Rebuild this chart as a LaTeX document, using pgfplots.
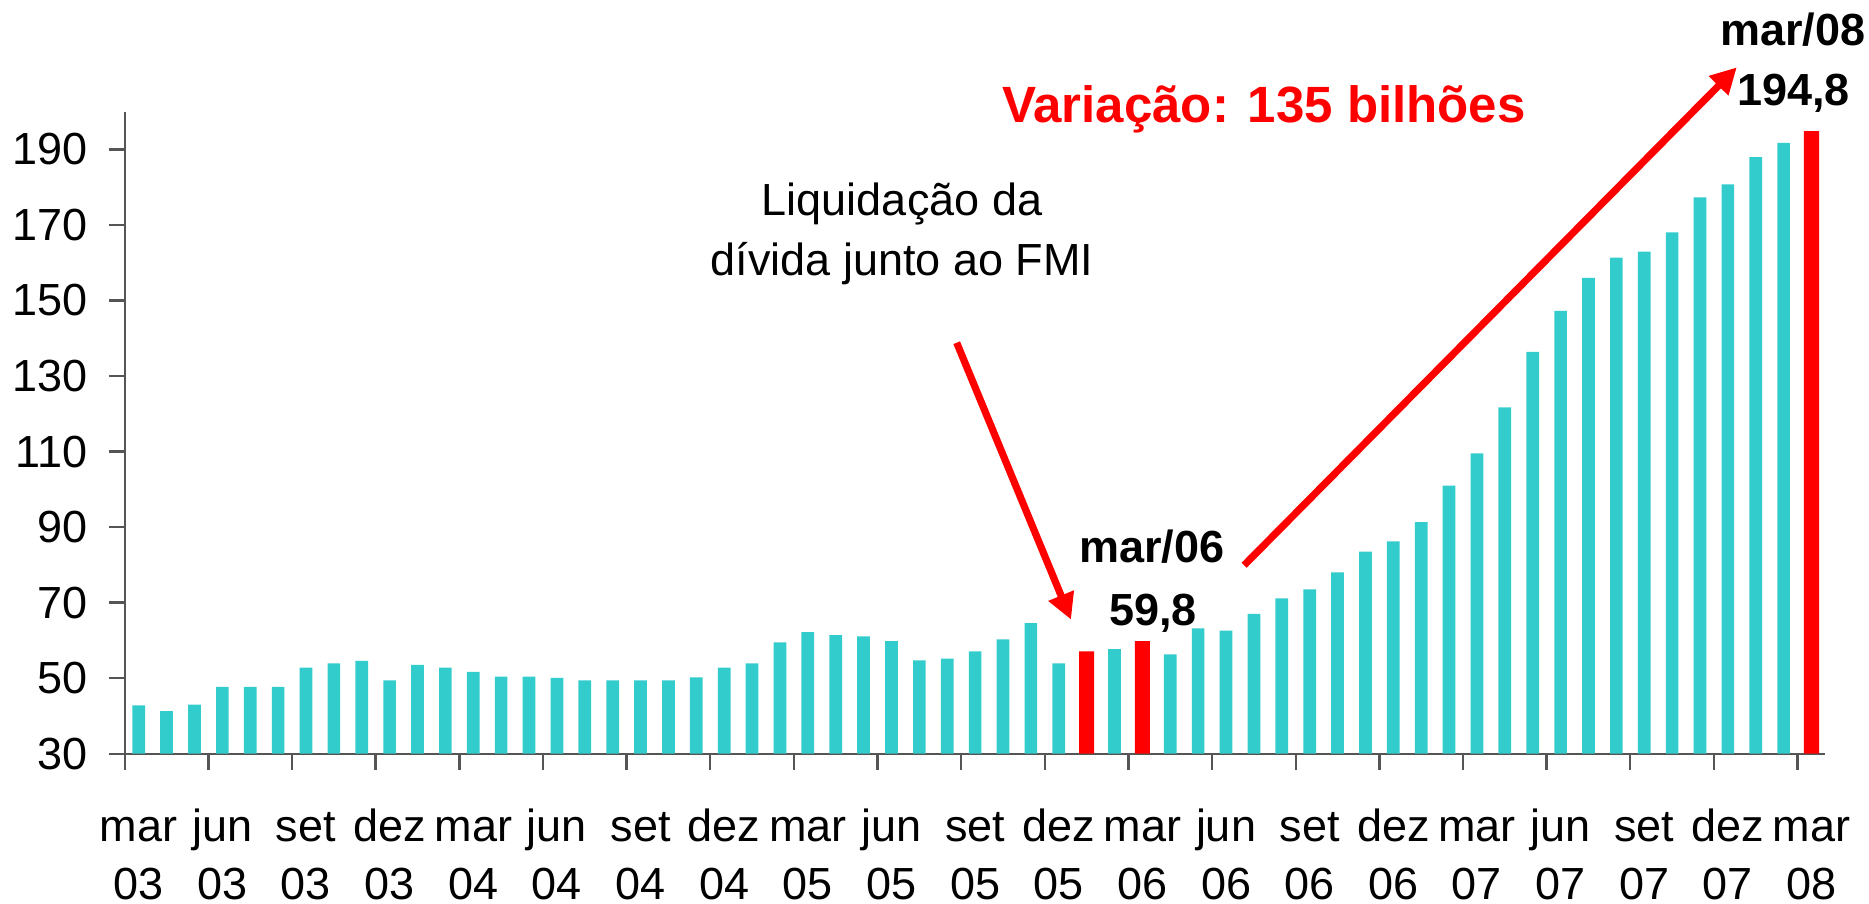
\documentclass[border=0pt]{standalone}
\usepackage{pgfplots}
\pgfplotsset{compat=1.18}
\usepackage{pgfplotstable}
\usepackage{fontspec}
\setmainfont{Liberation Sans}
\usetikzlibrary{arrows.meta}

\definecolor{barcyan}{HTML}{33CCCC}
\definecolor{barred}{HTML}{FF0000}
\definecolor{axgray}{HTML}{555555}
\newcommand\ml[2]{\strut#1\\#2}

% reservas, mar/03 .. mar/08 (1 = mar/03)
\pgfplotstableread{
x y
1 42.8
2 41.3
3 43.0
4 47.7
5 47.7
6 47.7
7 52.8
8 53.9
9 54.6
10 49.4
11 53.5
12 52.8
13 51.7
14 50.4
15 50.4
16 50.1
17 49.4
18 49.4
19 49.4
20 49.4
21 50.2
22 52.8
23 53.9
24 59.5
25 62.2
26 61.4
27 61.1
28 59.8
29 54.7
30 55.2
31 57.1
32 60.3
33 64.6
34 53.9
36 57.7
38 56.3
39 63.2
40 62.6
41 67.0
42 71.1
43 73.5
44 78.0
45 83.5
46 86.2
47 91.3
48 101.0
49 109.5
50 121.7
51 136.4
52 147.2
53 156.0
54 161.3
55 162.9
56 168.0
57 177.3
58 180.7
59 187.9
60 191.7
}\cyandata
\pgfplotstableread{
x y
35 57.1
37 59.8
61 194.8
}\reddata

\begin{document}
\begin{tikzpicture}
\useasboundingbox (-31.19pt,-37.33pt) rectangle (436.06pt,188.43pt);
\begin{axis}[
  at={(0,0)}, anchor=south west,
  width=425.17pt, height=160.55pt, scale only axis,
  xmin=0.5, xmax=61.5, ymin=30, ymax=200,
  axis x line=bottom, axis y line=left,
  axis line style={-, axgray, line width=0.6pt},
  ytick={30,50,...,190},
  xtick={0.5,3.5,...,60.5},
  xticklabels={\ml{mar}{03},\ml{jun}{03},\ml{set}{03},\ml{dez}{03},
    \ml{mar}{04},\ml{jun}{04},\ml{set}{04},\ml{dez}{04},
    \ml{mar}{05},\ml{jun}{05},\ml{set}{05},\ml{dez}{05},
    \ml{mar}{06},\ml{jun}{06},\ml{set}{06},\ml{dez}{06},
    \ml{mar}{07},\ml{jun}{07},\ml{set}{07},\ml{dez}{07},
    \ml{mar}{08}},
  tick align=outside, major tick length=4pt,
  tick style={axgray, line width=0.6pt},
  /pgf/number format/assume math mode=true,
  ticklabel style={font=\fontsize{11.25}{14.5}\selectfont, inner sep=0pt},
  xticklabel style={align=center, anchor=north, xshift=3.485pt, yshift=-7.6pt},
  yticklabel style={anchor=east, xshift=-5.2pt},
]
\addplot[ybar, bar width=0.455, bar shift=0pt, fill=barcyan, draw=none] table {\cyandata};
\addplot[ybar, bar width=0.54, bar shift=0pt, fill=barred, draw=none] table {\reddata};

\coordinate (liqA) at (axis cs:28.38,172.6);
\coordinate (liqB) at (axis cs:28.38,156.7);
\coordinate (a1s) at (axis cs:30.34,138.8);
\coordinate (a1e) at (axis cs:34.44,65.5);
\coordinate (m06) at (axis cs:37.33,80.5);
\coordinate (v06) at (axis cs:37.38,64.0);
\coordinate (a2s) at (axis cs:40.65,79.9);
\coordinate (a2e) at (axis cs:58.32,211.7);
\coordinate (m08) at (axis cs:60.32,217.6);
\coordinate (v08) at (axis cs:60.36,201.7);
\coordinate (var) at (axis cs:41.36,197.0);
\end{axis}

\begin{scope}[every node/.style={inner sep=0pt, anchor=base}]
\node[font=\fontsize{11.25}{13}\selectfont] at (liqA) {Liquidação da};
\node[font=\fontsize{11.25}{13}\selectfont] at (liqB) {dívida junto ao FMI};
\node[font=\fontsize{11.25}{13}\selectfont\bfseries] at (m06) {mar/06};
\node[font=\fontsize{11.25}{13}\selectfont\bfseries] at (v06) {59,8};
\node[font=\fontsize{11.25}{13}\selectfont\bfseries] at (m08) {mar/08};
\node[font=\fontsize{11.25}{13}\selectfont\bfseries] at (v08) {194,8};
\node[font=\fontsize{12.75}{15}\selectfont\bfseries, text=barred] at (var) {Variação: 135 bilhões};
\end{scope}
\draw[barred, line width=1.8pt, -{Triangle[length=6.5pt,width=6.5pt]}] (a1s) -- (a1e);
\draw[barred, line width=1.8pt, -{Triangle[length=6.5pt,width=6.5pt]}] (a2s) -- (a2e);
\end{tikzpicture}
\end{document}
